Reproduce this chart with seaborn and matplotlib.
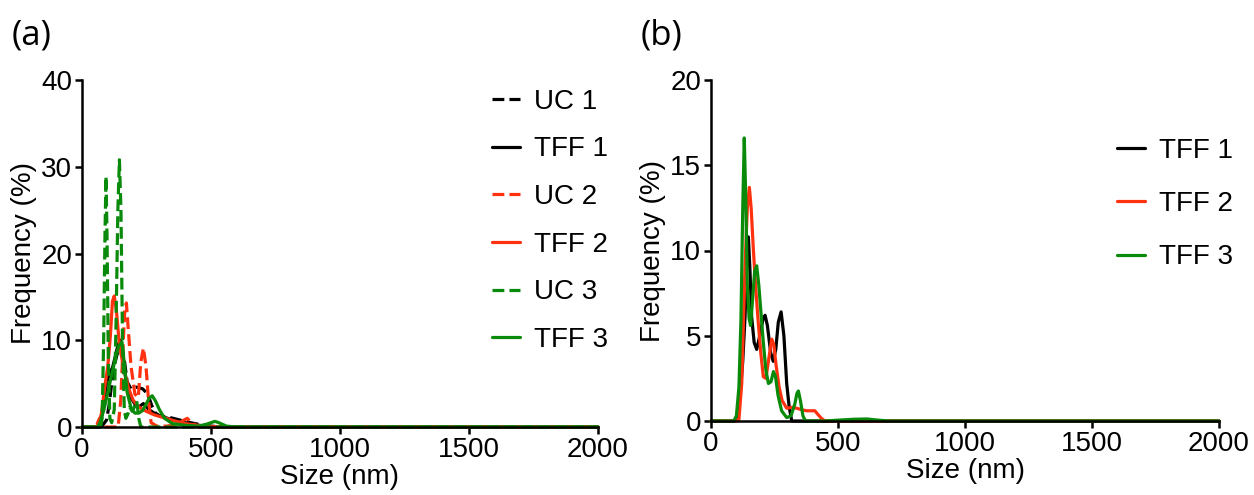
import matplotlib
matplotlib.use("Agg")
import matplotlib.pyplot as plt
import seaborn as sns

# ---------------- data ----------------
# Panel (a)
uc1_x = [0, 60, 80, 95, 105, 115, 125, 135, 145, 155, 165, 175, 190, 210, 235, 255, 270, 285, 300, 340, 380, 420, 470, 520, 600, 2000]
uc1_y = [0, 0, 0.2, 0.8, 2.5, 5.0, 7.0, 8.3, 9.0, 9.3, 7.5, 5.2, 4.4, 4.6, 4.4, 3.8, 2.5, 1.6, 1.3, 1.1, 0.8, 0.5, 0.2, 0.05, 0, 0]

tff1_x = [0, 65, 72, 82, 95, 108, 118, 128, 140, 150, 160, 173, 193, 215, 238, 260, 290, 353, 430, 500, 2000]
tff1_y = [0, 0, 0.5, 2.3, 5.0, 6.3, 6.8, 8.0, 9.5, 10.0, 8.0, 4.6, 3.2, 2.2, 2.7, 2.0, 1.4, 0.8, 0.3, 0, 0]

uc2_x = [0, 55, 62, 68, 75, 85, 140, 150, 160, 166, 172, 180, 190, 205, 218, 228, 238, 248, 258, 268, 290, 330, 370, 395, 408, 420, 450, 2000]
uc2_y = [0, 0, 0.6, 1.0, 0.6, 0, 0, 3.0, 10.0, 13.5, 14.3, 11.0, 7.0, 3.8, 3.4, 7.5, 9.1, 7.0, 3.0, 0.5, 0.1, 0.1, 0.3, 0.8, 1.0, 0.6, 0, 0]

tff2_x = [0, 55, 63, 75, 90, 100, 110, 118, 125, 133, 145, 160, 180, 198, 220, 250, 280, 314, 360, 400, 445, 500, 2000]
tff2_y = [0, 0, 0.3, 1.5, 5.0, 7.0, 10.5, 14.5, 15.1, 13.5, 9.5, 7.0, 4.5, 3.1, 2.3, 1.8, 1.4, 1.1, 0.7, 0.4, 0.2, 0, 0]

uc3_x = [0, 72, 78, 84, 89, 93, 97, 102, 108, 115, 125, 132, 139, 145, 151, 157, 164, 170, 178, 185, 195, 205, 212, 220, 228, 2000]
uc3_y = [0, 0, 1.0, 10.0, 22.0, 28.9, 22.0, 8.0, 1.0, 0.5, 2.0, 12.0, 25.0, 30.8, 25.0, 10.0, 2.0, 1.0, 1.5, 2.3, 1.8, 2.5, 3.0, 1.0, 0, 0]

tff3_x = [0, 60, 70, 85, 100, 115, 130, 142, 155, 165, 175, 190, 205, 220, 235, 248, 260, 272, 285, 300, 320, 350, 400, 450, 480, 500, 515, 530, 560, 600, 2000]
tff3_y = [0, 0, 0.5, 2.0, 4.0, 6.0, 8.0, 9.3, 9.8, 7.0, 4.0, 2.2, 1.6, 1.6, 1.9, 2.6, 3.3, 3.6, 3.0, 2.0, 1.0, 0.4, 0.2, 0.1, 0.3, 0.5, 0.65, 0.5, 0.1, 0, 0]

# Panel (b)
b_tff1_x = [0, 90, 100, 114, 125, 134, 141, 147, 153, 160, 170, 180, 195, 205, 213, 222, 235, 245, 255, 265, 276, 287, 298, 308, 318, 2000]
b_tff1_y = [0, 0, 0.2, 1.4, 3.5, 6.1, 9.5, 10.8, 9.0, 6.1, 4.6, 4.2, 5.2, 6.0, 6.2, 5.6, 4.0, 3.5, 4.2, 5.8, 6.4, 5.0, 2.2, 0.8, 0, 0]

b_tff2_x = [0, 100, 110, 121, 134, 143, 151, 158, 167, 176, 186, 196, 206, 216, 229, 239, 247, 256, 268, 280, 298, 320, 337, 360, 377, 395, 409, 420, 435, 449, 500, 2000]
b_tff2_y = [0, 0, 0.1, 2.2, 9.1, 12.5, 13.7, 12.5, 10.0, 7.8, 5.8, 4.0, 2.6, 2.5, 3.8, 4.8, 4.5, 3.3, 2.0, 1.2, 0.75, 0.8, 0.75, 0.65, 0.6, 0.6, 0.6, 0.4, 0.15, 0, 0, 0]

b_tff3_x = [0, 90, 100, 110, 118, 125, 131, 137, 143, 150, 156, 163, 172, 180, 188, 196, 206, 216, 226, 236, 246, 254, 264, 278, 298, 315, 330, 338, 344, 352, 362, 372, 450, 500, 560, 613, 660, 700, 2000]
b_tff3_y = [0, 0, 0.3, 2.0, 6.0, 12.5, 16.6, 13.0, 8.0, 6.0, 5.6, 7.0, 8.8, 9.1, 8.0, 6.5, 4.6, 3.0, 2.2, 2.3, 2.9, 2.6, 1.5, 0.6, 0.2, 0.3, 1.0, 1.6, 1.76, 1.2, 0.3, 0, 0, 0.05, 0.1, 0.12, 0.05, 0, 0]

labels_a = ["UC 1", "TFF 1", "UC 2", "TFF 2", "UC 3", "TFF 3"]
labels_b = ["TFF 1", "TFF 2", "TFF 3"]
x_ticks = [0, 500, 1000, 1500, 2000]
y_ticks_a = [0, 10, 20, 30, 40]
y_ticks_b = [0, 5, 10, 15, 20]

# ---------------- style ----------------
sns.set_style("ticks")
plt.rcParams["font.family"] = ["Liberation Sans", "DejaVu Sans"]
plt.rcParams["text.color"] = "black"
plt.rcParams["axes.labelcolor"] = "black"

BLACK = "#000000"
RED = "#FF3210"
GREEN = "#0A8A0A"
LW = 2.3
FS = 20

fig = plt.figure(figsize=(12.54, 4.95), dpi=100)
ax_a = fig.add_axes([82 / 1254, (495 - 427) / 495, 516 / 1254, 347 / 495])
ax_b = fig.add_axes([711 / 1254, (495 - 421) / 495, 508 / 1254, 341 / 495])

series_a = [
    (uc1_x, uc1_y, BLACK, "--"),
    (tff1_x, tff1_y, BLACK, "-"),
    (uc2_x, uc2_y, RED, "--"),
    (tff2_x, tff2_y, RED, "-"),
    (uc3_x, uc3_y, GREEN, "--"),
    (tff3_x, tff3_y, GREEN, "-"),
]
for (xs, ys, c, ls), lab in zip(series_a, labels_a):
    sns.lineplot(x=xs, y=ys, ax=ax_a, color=c, linestyle=ls, linewidth=LW,
                 label=lab, estimator=None, clip_on=False)

series_b = [
    (b_tff1_x, b_tff1_y, BLACK),
    (b_tff2_x, b_tff2_y, RED),
    (b_tff3_x, b_tff3_y, GREEN),
]
for (xs, ys, c), lab in zip(series_b, labels_b):
    sns.lineplot(x=xs, y=ys, ax=ax_b, color=c, linestyle="-", linewidth=LW,
                 label=lab, estimator=None, clip_on=False)

for ax, yt in [(ax_a, y_ticks_a), (ax_b, y_ticks_b)]:
    ax.set_xlim(0, 2000)
    ax.set_ylim(0, yt[-1])
    ax.set_xticks(x_ticks)
    ax.set_yticks(yt)
    sns.despine(ax=ax)
    for s in ["left", "bottom"]:
        ax.spines[s].set_linewidth(1.8)
        ax.spines[s].set_color("black")
    ax.tick_params(axis="both", which="major", length=5, width=1.8,
                   labelsize=FS, pad=2, colors="black")
    ax.set_xlabel("Size (nm)", fontsize=FS, labelpad=1, color="black")
    ax.set_ylabel("Frequency (%)", fontsize=FS, labelpad=3, color="black")

leg_a = ax_a.legend(loc="upper left", bbox_to_anchor=(0.795, 0.975), frameon=False,
                    fontsize=FS, handlelength=1.0, handletextpad=0.5,
                    labelspacing=0.78, borderaxespad=0, borderpad=0)
leg_b = ax_b.legend(loc="upper left", bbox_to_anchor=(0.80, 0.83), frameon=False,
                    fontsize=FS, handlelength=1.0, handletextpad=0.5,
                    labelspacing=0.98, borderaxespad=0, borderpad=0)
for leg in (leg_a, leg_b):
    for line in leg.get_lines():
        line.set_linewidth(LW)
    for t in leg.get_texts():
        t.set_color("black")

fig.text(12 / 1254, 1 - 35 / 495, "(a)", fontsize=25, va="center", ha="left",
         family=["Open Sans", "DejaVu Sans"], color="black")
fig.text(641 / 1254, 1 - 35 / 495, "(b)", fontsize=25, va="center", ha="left",
         family=["Open Sans", "DejaVu Sans"], color="black")

fig.savefig("out.png", dpi=100)
